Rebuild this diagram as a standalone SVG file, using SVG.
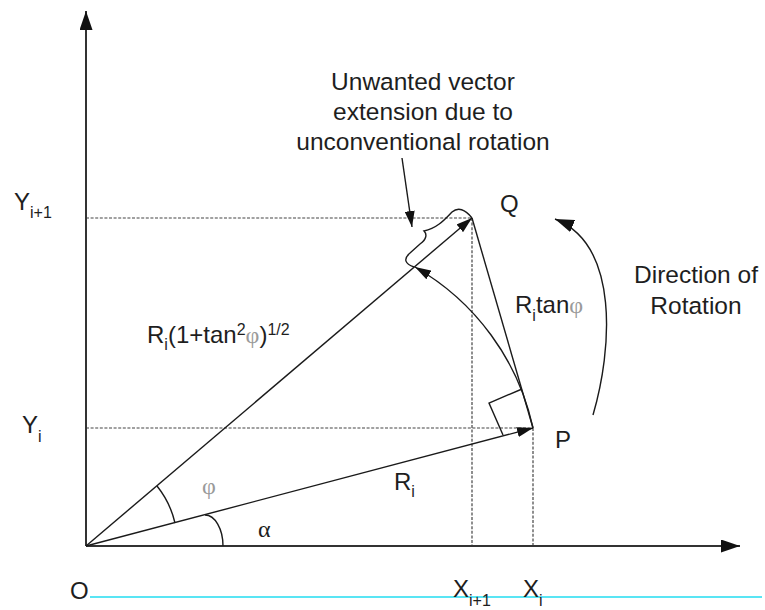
<svg xmlns="http://www.w3.org/2000/svg" width="765" height="610" viewBox="0 0 765 610">
  <defs>
    <style>
      .t { font-family: "Liberation Sans", Arial, sans-serif; font-size: 24px; fill: #1e1e1e; }
      .big { font-size: 24.5px; }
      .sub { font-size: 16px; }
      .ph { font-family: "Liberation Serif", "Times New Roman", serif; fill: #9a9a9a; }
      .gr { font-family: "Liberation Serif", "Times New Roman", serif; font-size: 24px; fill: #1e1e1e; }
      .ln { stroke: #1a1a1a; stroke-width: 1.4; fill: none; }
      .ax { stroke: #333333; stroke-width: 2; fill: none; }
      .dash { stroke: #444444; stroke-width: 1.2; stroke-dasharray: 3 1.6; fill: none; }
    </style>
    <marker id="ah" markerWidth="16" markerHeight="10" refX="16" refY="5" orient="auto" markerUnits="userSpaceOnUse" viewBox="0 0 16 10">
      <path d="M0,0 L16,5 L0,10 z" fill="#111111"/>
    </marker>
    <marker id="ahL" markerWidth="19" markerHeight="13" refX="19" refY="6.5" orient="auto" markerUnits="userSpaceOnUse" viewBox="0 0 19 13">
      <path d="M0,0 L19,6.5 L0,13 z" fill="#111111"/>
    </marker>
  </defs>
  <rect width="765" height="610" fill="#ffffff"/>

  <!-- baseline (cyan) -->
  <line x1="90" y1="597" x2="762" y2="597" stroke="#22dcf0" stroke-width="1.5"/>

  <g id="guides">
    <line class="dash" x1="86" y1="218" x2="472" y2="218"/>
    <line class="dash" x1="472" y1="218" x2="472" y2="546"/>
    <line class="dash" x1="86" y1="428" x2="533" y2="428"/>
    <line class="dash" x1="533" y1="428" x2="533" y2="546"/>
  </g>

  <g id="axes">
    <line class="ax" x1="86" y1="546" x2="86" y2="11" marker-end="url(#ahL)"/>
    <line class="ax" x1="86" y1="546" x2="740" y2="546" marker-end="url(#ahL)"/>
  </g>

  <g id="connectors">
    <line id="vec-OP" class="ln" x1="86" y1="546" x2="533" y2="428" marker-end="url(#ah)"/>
    <line id="vec-OQ" class="ln" x1="86" y1="546" x2="472" y2="218" marker-end="url(#ah)"/>
    <line id="seg-PQ" class="ln" x1="533" y1="428" x2="472" y2="218"/>
    <path id="rot-arc" class="ln" d="M 533 428 A 246 246 0 0 0 415 267" marker-end="url(#ah)"/>
    <path id="dir-arrow" class="ln" d="M 593 415 C 612 350, 620 245, 555 219" marker-end="url(#ahL)"/>
    <line id="note-arrow" class="ln" x1="402" y1="158" x2="412" y2="227" marker-end="url(#ah)"/>
    <path id="brace" class="ln" d="M 472 218 C 465 209, 458 207, 452 212 C 446 218, 438 228, 424 231 C 427 234, 427 239, 420 244 L 410 253 C 403 259, 405 264, 414 267"/>
    <polyline id="right-angle" class="ln" points="503,435 489,403 522,389"/>
    <path id="phi-arc" class="ln" d="M 157 486 A 92 92 0 0 1 175 523"/>
    <path id="alpha-arc" class="ln" d="M 205 515 A 18 31 0 0 1 223 546"/>
  </g>

  <g id="note">
    <text class="t big" x="423" y="90" text-anchor="middle">Unwanted vector</text>
    <text class="t big" x="423" y="120" text-anchor="middle">extension due to</text>
    <text class="t big" x="423" y="150" text-anchor="middle">unconventional rotation</text>
  </g>

  <g id="direction">
    <text class="t big" x="696" y="283" text-anchor="middle">Direction of</text>
    <text class="t big" x="696" y="314" text-anchor="middle">Rotation</text>
  </g>

  <g id="node-Q"><text class="t" x="500" y="212">Q</text></g>
  <g id="node-P"><text class="t" x="555" y="448">P</text></g>
  <g id="node-O"><text class="t" x="70" y="599">O</text></g>

  <g id="label-Yi1"><text class="t" x="14" y="210">Y<tspan class="sub" dy="8">i+1</tspan></text></g>
  <g id="label-Yi"><text class="t" x="22" y="433">Y<tspan class="sub" dy="9">i</tspan></text></g>
  <g id="label-Xi1"><text class="t" x="453" y="597">X<tspan class="sub" dy="9">i+1</tspan></text></g>
  <g id="label-Xi"><text class="t" x="523" y="597">X<tspan class="sub" dy="9">i</tspan></text></g>

  <g id="label-Rtan"><text class="t" x="515" y="313">R<tspan class="sub" dy="8">i</tspan><tspan dy="-8">tan</tspan><tspan class="ph">φ</tspan></text></g>
  <g id="label-Rsec"><text class="t" x="147" y="343">R<tspan class="sub" dy="7">i</tspan><tspan dy="-7">(1+tan</tspan><tspan class="sub" dy="-8">2</tspan><tspan class="ph" dy="8">φ</tspan><tspan>)</tspan><tspan class="sub" dy="-8">1/2</tspan></text></g>
  <g id="label-Ri"><text class="t" x="394" y="490">R<tspan class="sub" dy="7">i</tspan></text></g>
  <g id="label-phi"><text class="t ph" x="209" y="494" text-anchor="middle">φ</text></g>
  <g id="label-alpha"><text class="gr" x="258" y="537">α</text></g>
</svg>
